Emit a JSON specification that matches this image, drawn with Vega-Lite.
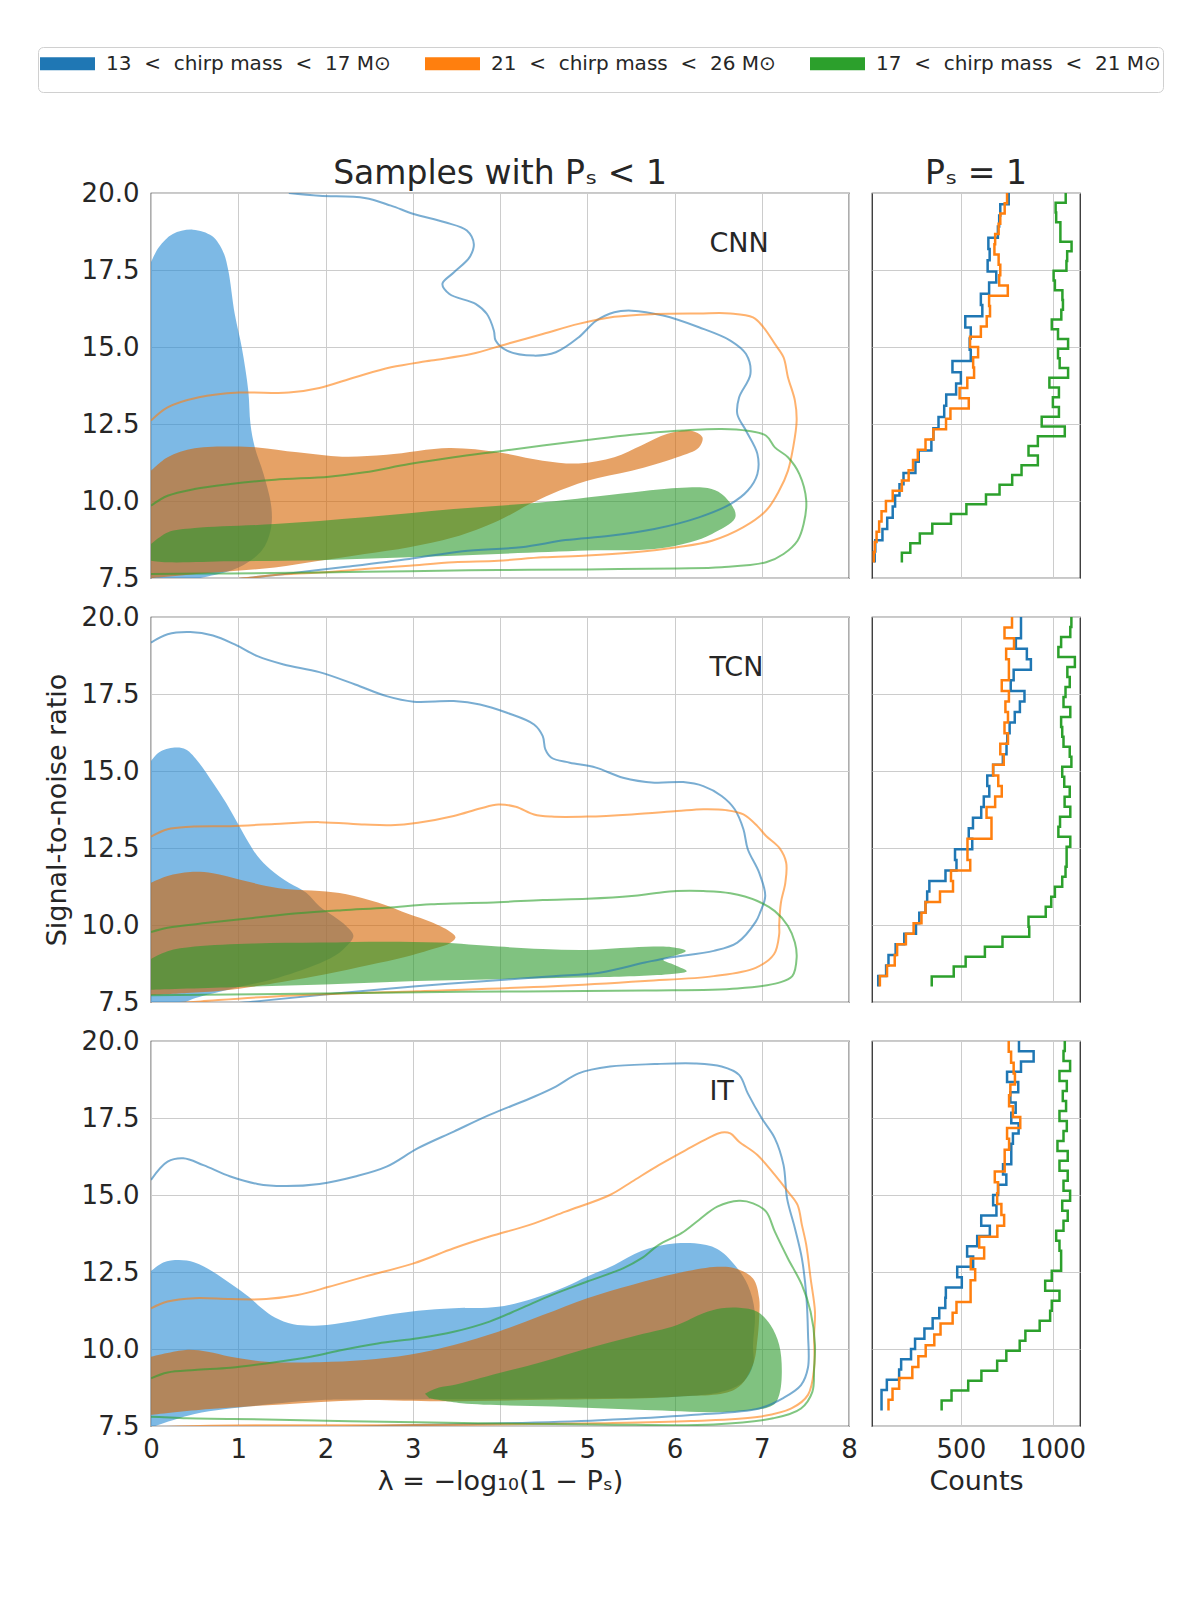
{
  "$schema": "https://vega.github.io/schema/vega-lite/v6.json",
  "background": "white",
  "padding": {"left": 37, "top": 46, "right": 10, "bottom": 10},
  "columns": 2,
  "spacing": {"row": 39, "column": 23},
  "bounds": "flush",
  "align": "each",
  "resolve": {"scale": {"x": "independent", "y": "independent", "color": "shared"}},
  "datasets": {
    "labels": [
      {"p": "CNN", "x": 6.4, "y": 18.35, "label": "CNN"},
      {"p": "TCN", "x": 6.4, "y": 18.35, "label": "TCN"},
      {"p": "IT", "x": 6.4, "y": 18.35, "label": "IT"}
    ],
    "contours": [
      {"p":"CNN","g":"b","t":"f","i":0,"x":0,"y":17.75},{"p":"CNN","g":"b","t":"f","i":1,"x":0.09,"y":18.24},{"p":"CNN","g":"b","t":"f","i":2,"x":0.25,"y":18.67},{"p":"CNN","g":"b","t":"f","i":3,"x":0.48,"y":18.81},{"p":"CNN","g":"b","t":"f","i":4,"x":0.7,"y":18.6},{"p":"CNN","g":"b","t":"f","i":5,"x":0.83,"y":18.07},{"p":"CNN","g":"b","t":"f","i":6,"x":0.885,"y":17.5},{"p":"CNN","g":"b","t":"f","i":7,"x":0.96,"y":16.07},{"p":"CNN","g":"b","t":"f","i":8,"x":1.04,"y":14.99},{"p":"CNN","g":"b","t":"f","i":9,"x":1.115,"y":13.58},{"p":"CNN","g":"b","t":"f","i":10,"x":1.14,"y":12.5},{"p":"CNN","g":"b","t":"f","i":11,"x":1.19,"y":11.74},{"p":"CNN","g":"b","t":"f","i":12,"x":1.29,"y":10.88},{"p":"CNN","g":"b","t":"f","i":13,"x":1.38,"y":9.79},{"p":"CNN","g":"b","t":"f","i":14,"x":1.37,"y":9.04},{"p":"CNN","g":"b","t":"f","i":15,"x":1.27,"y":8.39},{"p":"CNN","g":"b","t":"f","i":16,"x":1.01,"y":7.85},{"p":"CNN","g":"b","t":"f","i":17,"x":0.65,"y":7.55},{"p":"CNN","g":"b","t":"f","i":18,"x":0.3,"y":7.4},{"p":"CNN","g":"b","t":"f","i":19,"x":0,"y":7.4},
      {"p":"CNN","g":"o","t":"f","i":0,"x":0,"y":10.98},{"p":"CNN","g":"o","t":"f","i":1,"x":0.19,"y":11.42},{"p":"CNN","g":"o","t":"f","i":2,"x":0.5,"y":11.71},{"p":"CNN","g":"o","t":"f","i":3,"x":0.91,"y":11.77},{"p":"CNN","g":"o","t":"f","i":4,"x":1.22,"y":11.74},{"p":"CNN","g":"o","t":"f","i":5,"x":1.68,"y":11.58},{"p":"CNN","g":"o","t":"f","i":6,"x":2.19,"y":11.44},{"p":"CNN","g":"o","t":"f","i":7,"x":2.7,"y":11.5},{"p":"CNN","g":"o","t":"f","i":8,"x":3.42,"y":11.72},{"p":"CNN","g":"o","t":"f","i":9,"x":3.98,"y":11.58},{"p":"CNN","g":"o","t":"f","i":10,"x":4.49,"y":11.31},{"p":"CNN","g":"o","t":"f","i":11,"x":4.9,"y":11.22},{"p":"CNN","g":"o","t":"f","i":12,"x":5.31,"y":11.42},{"p":"CNN","g":"o","t":"f","i":13,"x":5.62,"y":11.8},{"p":"CNN","g":"o","t":"f","i":14,"x":5.92,"y":12.18},{"p":"CNN","g":"o","t":"f","i":15,"x":6.18,"y":12.29},{"p":"CNN","g":"o","t":"f","i":16,"x":6.32,"y":12.07},{"p":"CNN","g":"o","t":"f","i":17,"x":6.28,"y":11.74},{"p":"CNN","g":"o","t":"f","i":18,"x":6.03,"y":11.42},{"p":"CNN","g":"o","t":"f","i":19,"x":5.51,"y":10.98},{"p":"CNN","g":"o","t":"f","i":20,"x":5.0,"y":10.66},{"p":"CNN","g":"o","t":"f","i":21,"x":4.59,"y":10.23},{"p":"CNN","g":"o","t":"f","i":22,"x":4.34,"y":9.9},{"p":"CNN","g":"o","t":"f","i":23,"x":3.98,"y":9.36},{"p":"CNN","g":"o","t":"f","i":24,"x":3.47,"y":8.82},{"p":"CNN","g":"o","t":"f","i":25,"x":2.96,"y":8.5},{"p":"CNN","g":"o","t":"f","i":26,"x":2.45,"y":8.28},{"p":"CNN","g":"o","t":"f","i":27,"x":1.93,"y":8.06},{"p":"CNN","g":"o","t":"f","i":28,"x":1.42,"y":7.84},{"p":"CNN","g":"o","t":"f","i":29,"x":0.91,"y":7.72},{"p":"CNN","g":"o","t":"f","i":30,"x":0.4,"y":7.6},{"p":"CNN","g":"o","t":"f","i":31,"x":0,"y":7.5},
      {"p":"CNN","g":"g","t":"f","i":0,"x":0,"y":8.6},{"p":"CNN","g":"g","t":"f","i":1,"x":0.19,"y":8.98},{"p":"CNN","g":"g","t":"f","i":2,"x":0.5,"y":9.12},{"p":"CNN","g":"g","t":"f","i":3,"x":1.42,"y":9.25},{"p":"CNN","g":"g","t":"f","i":4,"x":2.45,"y":9.47},{"p":"CNN","g":"g","t":"f","i":5,"x":3.47,"y":9.74},{"p":"CNN","g":"g","t":"f","i":6,"x":4.49,"y":9.96},{"p":"CNN","g":"g","t":"f","i":7,"x":5.51,"y":10.28},{"p":"CNN","g":"g","t":"f","i":8,"x":6.03,"y":10.42},{"p":"CNN","g":"g","t":"f","i":9,"x":6.38,"y":10.42},{"p":"CNN","g":"g","t":"f","i":10,"x":6.54,"y":10.23},{"p":"CNN","g":"g","t":"f","i":11,"x":6.69,"y":9.69},{"p":"CNN","g":"g","t":"f","i":12,"x":6.69,"y":9.42},{"p":"CNN","g":"g","t":"f","i":13,"x":6.43,"y":8.93},{"p":"CNN","g":"g","t":"f","i":14,"x":6.18,"y":8.66},{"p":"CNN","g":"g","t":"f","i":15,"x":5.77,"y":8.44},{"p":"CNN","g":"g","t":"f","i":16,"x":5.0,"y":8.39},{"p":"CNN","g":"g","t":"f","i":17,"x":3.98,"y":8.28},{"p":"CNN","g":"g","t":"f","i":18,"x":2.96,"y":8.17},{"p":"CNN","g":"g","t":"f","i":19,"x":1.93,"y":8.08},{"p":"CNN","g":"g","t":"f","i":20,"x":0.91,"y":8.04},{"p":"CNN","g":"g","t":"f","i":21,"x":0.19,"y":8.01},{"p":"CNN","g":"g","t":"f","i":22,"x":0,"y":8.06},
      {"p":"CNN","g":"b","t":"l","i":1,"x":1.58,"y":20.0},{"p":"CNN","g":"b","t":"l","i":2,"x":1.93,"y":19.91},{"p":"CNN","g":"b","t":"l","i":3,"x":2.45,"y":19.84},{"p":"CNN","g":"b","t":"l","i":4,"x":2.75,"y":19.59},{"p":"CNN","g":"b","t":"l","i":5,"x":3.01,"y":19.32},{"p":"CNN","g":"b","t":"l","i":6,"x":3.37,"y":19.05},{"p":"CNN","g":"b","t":"l","i":7,"x":3.62,"y":18.78},{"p":"CNN","g":"b","t":"l","i":8,"x":3.7,"y":18.34},{"p":"CNN","g":"b","t":"l","i":9,"x":3.65,"y":17.91},{"p":"CNN","g":"b","t":"l","i":10,"x":3.47,"y":17.42},{"p":"CNN","g":"b","t":"l","i":11,"x":3.34,"y":17.05},{"p":"CNN","g":"b","t":"l","i":12,"x":3.42,"y":16.72},{"p":"CNN","g":"b","t":"l","i":13,"x":3.72,"y":16.4},{"p":"CNN","g":"b","t":"l","i":14,"x":3.85,"y":16.07},{"p":"CNN","g":"b","t":"l","i":15,"x":3.93,"y":15.53},{"p":"CNN","g":"b","t":"l","i":16,"x":3.95,"y":15.21},{"p":"CNN","g":"b","t":"l","i":17,"x":4.08,"y":14.88},{"p":"CNN","g":"b","t":"l","i":18,"x":4.39,"y":14.72},{"p":"CNN","g":"b","t":"l","i":19,"x":4.64,"y":14.83},{"p":"CNN","g":"b","t":"l","i":20,"x":4.9,"y":15.31},{"p":"CNN","g":"b","t":"l","i":21,"x":5.1,"y":15.85},{"p":"CNN","g":"b","t":"l","i":22,"x":5.31,"y":16.13},{"p":"CNN","g":"b","t":"l","i":23,"x":5.51,"y":16.18},{"p":"CNN","g":"b","t":"l","i":24,"x":5.87,"y":16.02},{"p":"CNN","g":"b","t":"l","i":25,"x":6.28,"y":15.64},{"p":"CNN","g":"b","t":"l","i":26,"x":6.64,"y":15.21},{"p":"CNN","g":"b","t":"l","i":27,"x":6.82,"y":14.77},{"p":"CNN","g":"b","t":"l","i":28,"x":6.87,"y":14.12},{"p":"CNN","g":"b","t":"l","i":29,"x":6.74,"y":13.36},{"p":"CNN","g":"b","t":"l","i":30,"x":6.72,"y":12.82},{"p":"CNN","g":"b","t":"l","i":31,"x":6.82,"y":12.28},{"p":"CNN","g":"b","t":"l","i":32,"x":6.95,"y":11.53},{"p":"CNN","g":"b","t":"l","i":33,"x":6.95,"y":10.88},{"p":"CNN","g":"b","t":"l","i":34,"x":6.84,"y":10.34},{"p":"CNN","g":"b","t":"l","i":35,"x":6.64,"y":9.9},{"p":"CNN","g":"b","t":"l","i":36,"x":6.28,"y":9.47},{"p":"CNN","g":"b","t":"l","i":37,"x":5.77,"y":9.09},{"p":"CNN","g":"b","t":"l","i":38,"x":5.26,"y":8.87},{"p":"CNN","g":"b","t":"l","i":39,"x":4.75,"y":8.73},{"p":"CNN","g":"b","t":"l","i":40,"x":4.24,"y":8.5},{"p":"CNN","g":"b","t":"l","i":41,"x":3.57,"y":8.37},{"p":"CNN","g":"b","t":"l","i":42,"x":2.96,"y":8.12},{"p":"CNN","g":"b","t":"l","i":43,"x":2.19,"y":7.85},{"p":"CNN","g":"b","t":"l","i":44,"x":1.68,"y":7.68},{"p":"CNN","g":"b","t":"l","i":45,"x":1.17,"y":7.52},{"p":"CNN","g":"b","t":"l","i":46,"x":0.6,"y":7.35},{"p":"CNN","g":"b","t":"l","i":47,"x":-0.5,"y":7.2},
      {"p":"CNN","g":"o","t":"l","i":0,"x":0,"y":12.61},{"p":"CNN","g":"o","t":"l","i":1,"x":0.19,"y":13.04},{"p":"CNN","g":"o","t":"l","i":2,"x":0.55,"y":13.37},{"p":"CNN","g":"o","t":"l","i":3,"x":1.01,"y":13.52},{"p":"CNN","g":"o","t":"l","i":4,"x":1.58,"y":13.52},{"p":"CNN","g":"o","t":"l","i":5,"x":1.93,"y":13.67},{"p":"CNN","g":"o","t":"l","i":6,"x":2.34,"y":14.02},{"p":"CNN","g":"o","t":"l","i":7,"x":2.75,"y":14.34},{"p":"CNN","g":"o","t":"l","i":8,"x":3.21,"y":14.56},{"p":"CNN","g":"o","t":"l","i":9,"x":3.67,"y":14.77},{"p":"CNN","g":"o","t":"l","i":10,"x":4.08,"y":15.1},{"p":"CNN","g":"o","t":"l","i":11,"x":4.49,"y":15.42},{"p":"CNN","g":"o","t":"l","i":12,"x":4.9,"y":15.75},{"p":"CNN","g":"o","t":"l","i":13,"x":5.31,"y":15.98},{"p":"CNN","g":"o","t":"l","i":14,"x":5.77,"y":16.07},{"p":"CNN","g":"o","t":"l","i":15,"x":6.28,"y":16.09},{"p":"CNN","g":"o","t":"l","i":16,"x":6.64,"y":16.09},{"p":"CNN","g":"o","t":"l","i":17,"x":6.9,"y":15.96},{"p":"CNN","g":"o","t":"l","i":18,"x":7.02,"y":15.64},{"p":"CNN","g":"o","t":"l","i":19,"x":7.15,"y":15.1},{"p":"CNN","g":"o","t":"l","i":20,"x":7.25,"y":14.66},{"p":"CNN","g":"o","t":"l","i":21,"x":7.3,"y":14.02},{"p":"CNN","g":"o","t":"l","i":22,"x":7.38,"y":13.26},{"p":"CNN","g":"o","t":"l","i":23,"x":7.4,"y":12.61},{"p":"CNN","g":"o","t":"l","i":24,"x":7.36,"y":11.74},{"p":"CNN","g":"o","t":"l","i":25,"x":7.3,"y":10.98},{"p":"CNN","g":"o","t":"l","i":26,"x":7.2,"y":10.34},{"p":"CNN","g":"o","t":"l","i":27,"x":7.05,"y":9.69},{"p":"CNN","g":"o","t":"l","i":28,"x":6.79,"y":9.15},{"p":"CNN","g":"o","t":"l","i":29,"x":6.43,"y":8.71},{"p":"CNN","g":"o","t":"l","i":30,"x":6.03,"y":8.5},{"p":"CNN","g":"o","t":"l","i":31,"x":5.51,"y":8.33},{"p":"CNN","g":"o","t":"l","i":32,"x":5.0,"y":8.23},{"p":"CNN","g":"o","t":"l","i":33,"x":4.49,"y":8.17},{"p":"CNN","g":"o","t":"l","i":34,"x":3.98,"y":8.06},{"p":"CNN","g":"o","t":"l","i":35,"x":3.47,"y":8.01},{"p":"CNN","g":"o","t":"l","i":36,"x":2.96,"y":7.9},{"p":"CNN","g":"o","t":"l","i":37,"x":2.45,"y":7.79},{"p":"CNN","g":"o","t":"l","i":38,"x":1.93,"y":7.68},{"p":"CNN","g":"o","t":"l","i":39,"x":1.42,"y":7.6},{"p":"CNN","g":"o","t":"l","i":40,"x":1.17,"y":7.52},{"p":"CNN","g":"o","t":"l","i":41,"x":0.5,"y":7.35},{"p":"CNN","g":"o","t":"l","i":42,"x":-0.5,"y":7.3},{"p":"CNN","g":"o","t":"l","i":43,"x":-0.5,"y":12.6},
      {"p":"CNN","g":"g","t":"l","i":0,"x":0,"y":9.85},{"p":"CNN","g":"g","t":"l","i":1,"x":0.19,"y":10.17},{"p":"CNN","g":"g","t":"l","i":2,"x":0.5,"y":10.39},{"p":"CNN","g":"g","t":"l","i":3,"x":0.91,"y":10.55},{"p":"CNN","g":"g","t":"l","i":4,"x":1.42,"y":10.69},{"p":"CNN","g":"g","t":"l","i":5,"x":2.04,"y":10.79},{"p":"CNN","g":"g","t":"l","i":6,"x":2.45,"y":10.93},{"p":"CNN","g":"g","t":"l","i":7,"x":2.96,"y":11.2},{"p":"CNN","g":"g","t":"l","i":8,"x":3.47,"y":11.42},{"p":"CNN","g":"g","t":"l","i":9,"x":3.98,"y":11.61},{"p":"CNN","g":"g","t":"l","i":10,"x":4.49,"y":11.8},{"p":"CNN","g":"g","t":"l","i":11,"x":5.0,"y":11.98},{"p":"CNN","g":"g","t":"l","i":12,"x":5.51,"y":12.15},{"p":"CNN","g":"g","t":"l","i":13,"x":6.03,"y":12.28},{"p":"CNN","g":"g","t":"l","i":14,"x":6.54,"y":12.34},{"p":"CNN","g":"g","t":"l","i":15,"x":6.84,"y":12.28},{"p":"CNN","g":"g","t":"l","i":16,"x":7.05,"y":12.12},{"p":"CNN","g":"g","t":"l","i":17,"x":7.15,"y":11.74},{"p":"CNN","g":"g","t":"l","i":18,"x":7.3,"y":11.42},{"p":"CNN","g":"g","t":"l","i":19,"x":7.43,"y":10.88},{"p":"CNN","g":"g","t":"l","i":20,"x":7.51,"y":10.01},{"p":"CNN","g":"g","t":"l","i":21,"x":7.48,"y":9.25},{"p":"CNN","g":"g","t":"l","i":22,"x":7.41,"y":8.71},{"p":"CNN","g":"g","t":"l","i":23,"x":7.25,"y":8.28},{"p":"CNN","g":"g","t":"l","i":24,"x":7.05,"y":8.01},{"p":"CNN","g":"g","t":"l","i":25,"x":6.54,"y":7.85},{"p":"CNN","g":"g","t":"l","i":26,"x":6.03,"y":7.81},{"p":"CNN","g":"g","t":"l","i":27,"x":5.0,"y":7.78},{"p":"CNN","g":"g","t":"l","i":28,"x":3.98,"y":7.76},{"p":"CNN","g":"g","t":"l","i":29,"x":2.96,"y":7.72},{"p":"CNN","g":"g","t":"l","i":30,"x":1.93,"y":7.68},{"p":"CNN","g":"g","t":"l","i":31,"x":0.91,"y":7.65},{"p":"CNN","g":"g","t":"l","i":32,"x":0,"y":7.63},{"p":"CNN","g":"g","t":"l","i":33,"x":-0.5,"y":7.6},{"p":"CNN","g":"g","t":"l","i":34,"x":-0.5,"y":9.85},
      {"p":"TCN","g":"b","t":"f","i":0,"x":0,"y":15.32},{"p":"TCN","g":"b","t":"f","i":1,"x":0.09,"y":15.6},{"p":"TCN","g":"b","t":"f","i":2,"x":0.27,"y":15.76},{"p":"TCN","g":"b","t":"f","i":3,"x":0.4,"y":15.7},{"p":"TCN","g":"b","t":"f","i":4,"x":0.55,"y":15.27},{"p":"TCN","g":"b","t":"f","i":5,"x":0.71,"y":14.62},{"p":"TCN","g":"b","t":"f","i":6,"x":0.86,"y":13.97},{"p":"TCN","g":"b","t":"f","i":7,"x":0.99,"y":13.32},{"p":"TCN","g":"b","t":"f","i":8,"x":1.12,"y":12.67},{"p":"TCN","g":"b","t":"f","i":9,"x":1.22,"y":12.24},{"p":"TCN","g":"b","t":"f","i":10,"x":1.37,"y":11.8},{"p":"TCN","g":"b","t":"f","i":11,"x":1.58,"y":11.37},{"p":"TCN","g":"b","t":"f","i":12,"x":1.78,"y":11.05},{"p":"TCN","g":"b","t":"f","i":13,"x":1.93,"y":10.61},{"p":"TCN","g":"b","t":"f","i":14,"x":2.09,"y":10.29},{"p":"TCN","g":"b","t":"f","i":15,"x":2.24,"y":9.96},{"p":"TCN","g":"b","t":"f","i":16,"x":2.32,"y":9.64},{"p":"TCN","g":"b","t":"f","i":17,"x":2.2,"y":9.2},{"p":"TCN","g":"b","t":"f","i":18,"x":1.99,"y":8.83},{"p":"TCN","g":"b","t":"f","i":19,"x":1.46,"y":8.29},{"p":"TCN","g":"b","t":"f","i":20,"x":0.94,"y":7.94},{"p":"TCN","g":"b","t":"f","i":21,"x":0.51,"y":7.63},{"p":"TCN","g":"b","t":"f","i":22,"x":0.36,"y":7.47},{"p":"TCN","g":"b","t":"f","i":23,"x":0,"y":7.4},
      {"p":"TCN","g":"o","t":"f","i":0,"x":0,"y":11.37},{"p":"TCN","g":"o","t":"f","i":1,"x":0.19,"y":11.59},{"p":"TCN","g":"o","t":"f","i":2,"x":0.45,"y":11.72},{"p":"TCN","g":"o","t":"f","i":3,"x":0.71,"y":11.68},{"p":"TCN","g":"o","t":"f","i":4,"x":1.01,"y":11.48},{"p":"TCN","g":"o","t":"f","i":5,"x":1.32,"y":11.27},{"p":"TCN","g":"o","t":"f","i":6,"x":1.58,"y":11.16},{"p":"TCN","g":"o","t":"f","i":7,"x":1.93,"y":11.1},{"p":"TCN","g":"o","t":"f","i":8,"x":2.24,"y":11.0},{"p":"TCN","g":"o","t":"f","i":9,"x":2.6,"y":10.73},{"p":"TCN","g":"o","t":"f","i":10,"x":2.96,"y":10.35},{"p":"TCN","g":"o","t":"f","i":11,"x":3.21,"y":10.1},{"p":"TCN","g":"o","t":"f","i":12,"x":3.42,"y":9.8},{"p":"TCN","g":"o","t":"f","i":13,"x":3.49,"y":9.6},{"p":"TCN","g":"o","t":"f","i":14,"x":3.42,"y":9.4},{"p":"TCN","g":"o","t":"f","i":15,"x":3.2,"y":9.2},{"p":"TCN","g":"o","t":"f","i":16,"x":2.9,"y":8.95},{"p":"TCN","g":"o","t":"f","i":17,"x":2.5,"y":8.7},{"p":"TCN","g":"o","t":"f","i":18,"x":2.0,"y":8.4},{"p":"TCN","g":"o","t":"f","i":19,"x":1.5,"y":8.15},{"p":"TCN","g":"o","t":"f","i":20,"x":0.83,"y":7.87},{"p":"TCN","g":"o","t":"f","i":21,"x":0.41,"y":7.79},{"p":"TCN","g":"o","t":"f","i":22,"x":0,"y":7.72},
      {"p":"TCN","g":"g","t":"f","i":0,"x":0,"y":8.9},{"p":"TCN","g":"g","t":"f","i":1,"x":0.19,"y":9.15},{"p":"TCN","g":"g","t":"f","i":2,"x":0.5,"y":9.3},{"p":"TCN","g":"g","t":"f","i":3,"x":1.17,"y":9.4},{"p":"TCN","g":"g","t":"f","i":4,"x":1.93,"y":9.43},{"p":"TCN","g":"g","t":"f","i":5,"x":2.7,"y":9.46},{"p":"TCN","g":"g","t":"f","i":6,"x":3.3,"y":9.43},{"p":"TCN","g":"g","t":"f","i":7,"x":3.98,"y":9.3},{"p":"TCN","g":"g","t":"f","i":8,"x":4.49,"y":9.22},{"p":"TCN","g":"g","t":"f","i":9,"x":5.0,"y":9.19},{"p":"TCN","g":"g","t":"f","i":10,"x":5.51,"y":9.27},{"p":"TCN","g":"g","t":"f","i":11,"x":5.97,"y":9.28},{"p":"TCN","g":"g","t":"f","i":12,"x":6.13,"y":9.16},{"p":"TCN","g":"g","t":"f","i":13,"x":6.0,"y":9.0},{"p":"TCN","g":"g","t":"f","i":14,"x":5.87,"y":8.87},{"p":"TCN","g":"g","t":"f","i":15,"x":6.0,"y":8.7},{"p":"TCN","g":"g","t":"f","i":16,"x":6.14,"y":8.5},{"p":"TCN","g":"g","t":"f","i":17,"x":6.0,"y":8.42},{"p":"TCN","g":"g","t":"f","i":18,"x":5.2,"y":8.31},{"p":"TCN","g":"g","t":"f","i":19,"x":4.1,"y":8.25},{"p":"TCN","g":"g","t":"f","i":20,"x":3.04,"y":8.18},{"p":"TCN","g":"g","t":"f","i":21,"x":1.99,"y":8.07},{"p":"TCN","g":"g","t":"f","i":22,"x":0.93,"y":7.98},{"p":"TCN","g":"g","t":"f","i":23,"x":0,"y":7.9},
      {"p":"TCN","g":"b","t":"l","i":0,"x":0,"y":19.17},{"p":"TCN","g":"b","t":"l","i":1,"x":0.19,"y":19.44},{"p":"TCN","g":"b","t":"l","i":2,"x":0.45,"y":19.51},{"p":"TCN","g":"b","t":"l","i":3,"x":0.71,"y":19.4},{"p":"TCN","g":"b","t":"l","i":4,"x":0.96,"y":19.11},{"p":"TCN","g":"b","t":"l","i":5,"x":1.22,"y":18.73},{"p":"TCN","g":"b","t":"l","i":6,"x":1.52,"y":18.46},{"p":"TCN","g":"b","t":"l","i":7,"x":1.93,"y":18.21},{"p":"TCN","g":"b","t":"l","i":8,"x":2.34,"y":17.81},{"p":"TCN","g":"b","t":"l","i":9,"x":2.7,"y":17.43},{"p":"TCN","g":"b","t":"l","i":10,"x":3.01,"y":17.25},{"p":"TCN","g":"b","t":"l","i":11,"x":3.47,"y":17.27},{"p":"TCN","g":"b","t":"l","i":12,"x":3.77,"y":17.16},{"p":"TCN","g":"b","t":"l","i":13,"x":4.08,"y":16.89},{"p":"TCN","g":"b","t":"l","i":14,"x":4.39,"y":16.51},{"p":"TCN","g":"b","t":"l","i":15,"x":4.49,"y":16.13},{"p":"TCN","g":"b","t":"l","i":16,"x":4.52,"y":15.7},{"p":"TCN","g":"b","t":"l","i":17,"x":4.59,"y":15.43},{"p":"TCN","g":"b","t":"l","i":18,"x":4.8,"y":15.27},{"p":"TCN","g":"b","t":"l","i":19,"x":5.1,"y":15.11},{"p":"TCN","g":"b","t":"l","i":20,"x":5.41,"y":14.78},{"p":"TCN","g":"b","t":"l","i":21,"x":5.77,"y":14.62},{"p":"TCN","g":"b","t":"l","i":22,"x":6.1,"y":14.64},{"p":"TCN","g":"b","t":"l","i":23,"x":6.33,"y":14.51},{"p":"TCN","g":"b","t":"l","i":24,"x":6.54,"y":14.19},{"p":"TCN","g":"b","t":"l","i":25,"x":6.69,"y":13.76},{"p":"TCN","g":"b","t":"l","i":26,"x":6.79,"y":13.11},{"p":"TCN","g":"b","t":"l","i":27,"x":6.84,"y":12.46},{"p":"TCN","g":"b","t":"l","i":28,"x":6.97,"y":11.7},{"p":"TCN","g":"b","t":"l","i":29,"x":7.04,"y":10.94},{"p":"TCN","g":"b","t":"l","i":30,"x":6.98,"y":10.4},{"p":"TCN","g":"b","t":"l","i":31,"x":6.93,"y":10.1},{"p":"TCN","g":"b","t":"l","i":32,"x":6.72,"y":9.43},{"p":"TCN","g":"b","t":"l","i":33,"x":6.45,"y":9.16},{"p":"TCN","g":"b","t":"l","i":34,"x":5.93,"y":8.94},{"p":"TCN","g":"b","t":"l","i":35,"x":5.66,"y":8.78},{"p":"TCN","g":"b","t":"l","i":36,"x":5.14,"y":8.45},{"p":"TCN","g":"b","t":"l","i":37,"x":4.61,"y":8.34},{"p":"TCN","g":"b","t":"l","i":38,"x":4.09,"y":8.23},{"p":"TCN","g":"b","t":"l","i":39,"x":3.04,"y":8.01},{"p":"TCN","g":"b","t":"l","i":40,"x":1.99,"y":7.74},{"p":"TCN","g":"b","t":"l","i":41,"x":1.2,"y":7.52},{"p":"TCN","g":"b","t":"l","i":42,"x":0.5,"y":7.35},{"p":"TCN","g":"b","t":"l","i":43,"x":-0.5,"y":7.3},{"p":"TCN","g":"b","t":"l","i":44,"x":-0.5,"y":19.0},
      {"p":"TCN","g":"o","t":"l","i":0,"x":0,"y":12.87},{"p":"TCN","g":"o","t":"l","i":1,"x":0.19,"y":13.11},{"p":"TCN","g":"o","t":"l","i":2,"x":0.45,"y":13.19},{"p":"TCN","g":"o","t":"l","i":3,"x":0.91,"y":13.21},{"p":"TCN","g":"o","t":"l","i":4,"x":1.42,"y":13.28},{"p":"TCN","g":"o","t":"l","i":5,"x":1.93,"y":13.34},{"p":"TCN","g":"o","t":"l","i":6,"x":2.45,"y":13.26},{"p":"TCN","g":"o","t":"l","i":7,"x":2.75,"y":13.24},{"p":"TCN","g":"o","t":"l","i":8,"x":3.06,"y":13.32},{"p":"TCN","g":"o","t":"l","i":9,"x":3.47,"y":13.54},{"p":"TCN","g":"o","t":"l","i":10,"x":3.77,"y":13.78},{"p":"TCN","g":"o","t":"l","i":11,"x":3.98,"y":13.91},{"p":"TCN","g":"o","t":"l","i":12,"x":4.18,"y":13.84},{"p":"TCN","g":"o","t":"l","i":13,"x":4.39,"y":13.59},{"p":"TCN","g":"o","t":"l","i":14,"x":4.59,"y":13.52},{"p":"TCN","g":"o","t":"l","i":15,"x":5.0,"y":13.52},{"p":"TCN","g":"o","t":"l","i":16,"x":5.51,"y":13.59},{"p":"TCN","g":"o","t":"l","i":17,"x":6.03,"y":13.7},{"p":"TCN","g":"o","t":"l","i":18,"x":6.33,"y":13.76},{"p":"TCN","g":"o","t":"l","i":19,"x":6.59,"y":13.73},{"p":"TCN","g":"o","t":"l","i":20,"x":6.79,"y":13.59},{"p":"TCN","g":"o","t":"l","i":21,"x":6.95,"y":13.21},{"p":"TCN","g":"o","t":"l","i":22,"x":7.05,"y":12.89},{"p":"TCN","g":"o","t":"l","i":23,"x":7.2,"y":12.51},{"p":"TCN","g":"o","t":"l","i":24,"x":7.28,"y":12.02},{"p":"TCN","g":"o","t":"l","i":25,"x":7.27,"y":11.37},{"p":"TCN","g":"o","t":"l","i":26,"x":7.22,"y":10.73},{"p":"TCN","g":"o","t":"l","i":27,"x":7.2,"y":10.0},{"p":"TCN","g":"o","t":"l","i":28,"x":7.2,"y":9.7},{"p":"TCN","g":"o","t":"l","i":29,"x":7.14,"y":9.05},{"p":"TCN","g":"o","t":"l","i":30,"x":6.93,"y":8.61},{"p":"TCN","g":"o","t":"l","i":31,"x":6.45,"y":8.34},{"p":"TCN","g":"o","t":"l","i":32,"x":5.66,"y":8.18},{"p":"TCN","g":"o","t":"l","i":33,"x":4.61,"y":8.01},{"p":"TCN","g":"o","t":"l","i":34,"x":3.04,"y":7.85},{"p":"TCN","g":"o","t":"l","i":35,"x":1.46,"y":7.69},{"p":"TCN","g":"o","t":"l","i":36,"x":0.57,"y":7.52},{"p":"TCN","g":"o","t":"l","i":37,"x":0,"y":7.4},{"p":"TCN","g":"o","t":"l","i":38,"x":-0.5,"y":7.3},{"p":"TCN","g":"o","t":"l","i":39,"x":-0.5,"y":12.8},
      {"p":"TCN","g":"g","t":"l","i":0,"x":0,"y":9.77},{"p":"TCN","g":"g","t":"l","i":1,"x":0.19,"y":9.91},{"p":"TCN","g":"g","t":"l","i":2,"x":0.65,"y":10.07},{"p":"TCN","g":"g","t":"l","i":3,"x":1.17,"y":10.23},{"p":"TCN","g":"g","t":"l","i":4,"x":1.68,"y":10.38},{"p":"TCN","g":"g","t":"l","i":5,"x":2.19,"y":10.48},{"p":"TCN","g":"g","t":"l","i":6,"x":2.7,"y":10.56},{"p":"TCN","g":"g","t":"l","i":7,"x":3.21,"y":10.67},{"p":"TCN","g":"g","t":"l","i":8,"x":3.98,"y":10.74},{"p":"TCN","g":"g","t":"l","i":9,"x":4.49,"y":10.81},{"p":"TCN","g":"g","t":"l","i":10,"x":5.0,"y":10.85},{"p":"TCN","g":"g","t":"l","i":11,"x":5.51,"y":10.94},{"p":"TCN","g":"g","t":"l","i":12,"x":5.77,"y":11.03},{"p":"TCN","g":"g","t":"l","i":13,"x":6.03,"y":11.1},{"p":"TCN","g":"g","t":"l","i":14,"x":6.33,"y":11.1},{"p":"TCN","g":"g","t":"l","i":15,"x":6.64,"y":11.03},{"p":"TCN","g":"g","t":"l","i":16,"x":6.95,"y":10.78},{"p":"TCN","g":"g","t":"l","i":17,"x":7.15,"y":10.45},{"p":"TCN","g":"g","t":"l","i":18,"x":7.3,"y":9.97},{"p":"TCN","g":"g","t":"l","i":19,"x":7.38,"y":9.43},{"p":"TCN","g":"g","t":"l","i":20,"x":7.4,"y":8.94},{"p":"TCN","g":"g","t":"l","i":21,"x":7.35,"y":8.34},{"p":"TCN","g":"g","t":"l","i":22,"x":7.19,"y":8.12},{"p":"TCN","g":"g","t":"l","i":23,"x":6.72,"y":7.94},{"p":"TCN","g":"g","t":"l","i":24,"x":5.66,"y":7.87},{"p":"TCN","g":"g","t":"l","i":25,"x":3.56,"y":7.83},{"p":"TCN","g":"g","t":"l","i":26,"x":1.46,"y":7.76},{"p":"TCN","g":"g","t":"l","i":27,"x":0,"y":7.72},{"p":"TCN","g":"g","t":"l","i":28,"x":-0.5,"y":7.7},{"p":"TCN","g":"g","t":"l","i":29,"x":-0.5,"y":9.8},
      {"p":"IT","g":"b","t":"f","i":0,"x":0,"y":12.53},{"p":"IT","g":"b","t":"f","i":1,"x":0.14,"y":12.81},{"p":"IT","g":"b","t":"f","i":2,"x":0.32,"y":12.89},{"p":"IT","g":"b","t":"f","i":3,"x":0.5,"y":12.81},{"p":"IT","g":"b","t":"f","i":4,"x":0.71,"y":12.51},{"p":"IT","g":"b","t":"f","i":5,"x":0.91,"y":12.13},{"p":"IT","g":"b","t":"f","i":6,"x":1.12,"y":11.7},{"p":"IT","g":"b","t":"f","i":7,"x":1.27,"y":11.32},{"p":"IT","g":"b","t":"f","i":8,"x":1.42,"y":11.02},{"p":"IT","g":"b","t":"f","i":9,"x":1.63,"y":10.8},{"p":"IT","g":"b","t":"f","i":10,"x":1.93,"y":10.76},{"p":"IT","g":"b","t":"f","i":11,"x":2.29,"y":10.89},{"p":"IT","g":"b","t":"f","i":12,"x":2.7,"y":11.1},{"p":"IT","g":"b","t":"f","i":13,"x":3.06,"y":11.24},{"p":"IT","g":"b","t":"f","i":14,"x":3.47,"y":11.32},{"p":"IT","g":"b","t":"f","i":15,"x":3.98,"y":11.37},{"p":"IT","g":"b","t":"f","i":16,"x":4.39,"y":11.65},{"p":"IT","g":"b","t":"f","i":17,"x":4.75,"y":12.02},{"p":"IT","g":"b","t":"f","i":18,"x":5.0,"y":12.35},{"p":"IT","g":"b","t":"f","i":19,"x":5.31,"y":12.73},{"p":"IT","g":"b","t":"f","i":20,"x":5.62,"y":13.18},{"p":"IT","g":"b","t":"f","i":21,"x":5.92,"y":13.4},{"p":"IT","g":"b","t":"f","i":22,"x":6.23,"y":13.43},{"p":"IT","g":"b","t":"f","i":23,"x":6.49,"y":13.25},{"p":"IT","g":"b","t":"f","i":24,"x":6.69,"y":12.73},{"p":"IT","g":"b","t":"f","i":25,"x":6.84,"y":12.08},{"p":"IT","g":"b","t":"f","i":26,"x":6.92,"y":11.21},{"p":"IT","g":"b","t":"f","i":27,"x":6.9,"y":10.13},{"p":"IT","g":"b","t":"f","i":28,"x":6.9,"y":9.48},{"p":"IT","g":"b","t":"f","i":29,"x":6.79,"y":8.94},{"p":"IT","g":"b","t":"f","i":30,"x":6.54,"y":8.61},{"p":"IT","g":"b","t":"f","i":31,"x":6.03,"y":8.45},{"p":"IT","g":"b","t":"f","i":32,"x":5.0,"y":8.4},{"p":"IT","g":"b","t":"f","i":33,"x":3.5,"y":8.37},{"p":"IT","g":"b","t":"f","i":34,"x":2.4,"y":8.36},{"p":"IT","g":"b","t":"f","i":35,"x":2.0,"y":8.35},{"p":"IT","g":"b","t":"f","i":36,"x":1.2,"y":8.16},{"p":"IT","g":"b","t":"f","i":37,"x":0.5,"y":7.89},{"p":"IT","g":"b","t":"f","i":38,"x":0,"y":7.45},
      {"p":"IT","g":"o","t":"f","i":0,"x":0,"y":9.75},{"p":"IT","g":"o","t":"f","i":1,"x":0.4,"y":9.97},{"p":"IT","g":"o","t":"f","i":2,"x":0.65,"y":9.91},{"p":"IT","g":"o","t":"f","i":3,"x":0.91,"y":9.75},{"p":"IT","g":"o","t":"f","i":4,"x":1.32,"y":9.59},{"p":"IT","g":"o","t":"f","i":5,"x":1.93,"y":9.57},{"p":"IT","g":"o","t":"f","i":6,"x":2.45,"y":9.64},{"p":"IT","g":"o","t":"f","i":7,"x":2.96,"y":9.81},{"p":"IT","g":"o","t":"f","i":8,"x":3.47,"y":10.13},{"p":"IT","g":"o","t":"f","i":9,"x":3.98,"y":10.56},{"p":"IT","g":"o","t":"f","i":10,"x":4.49,"y":11.1},{"p":"IT","g":"o","t":"f","i":11,"x":5.0,"y":11.65},{"p":"IT","g":"o","t":"f","i":12,"x":5.51,"y":12.08},{"p":"IT","g":"o","t":"f","i":13,"x":6.03,"y":12.46},{"p":"IT","g":"o","t":"f","i":14,"x":6.49,"y":12.67},{"p":"IT","g":"o","t":"f","i":15,"x":6.69,"y":12.62},{"p":"IT","g":"o","t":"f","i":16,"x":6.9,"y":12.29},{"p":"IT","g":"o","t":"f","i":17,"x":6.97,"y":11.65},{"p":"IT","g":"o","t":"f","i":18,"x":6.97,"y":11.0},{"p":"IT","g":"o","t":"f","i":19,"x":6.95,"y":10.3},{"p":"IT","g":"o","t":"f","i":20,"x":6.9,"y":9.5},{"p":"IT","g":"o","t":"f","i":21,"x":6.7,"y":8.7},{"p":"IT","g":"o","t":"f","i":22,"x":6.0,"y":8.45},{"p":"IT","g":"o","t":"f","i":23,"x":4.5,"y":8.35},{"p":"IT","g":"o","t":"f","i":24,"x":3.3,"y":8.3},{"p":"IT","g":"o","t":"f","i":25,"x":2.4,"y":8.34},{"p":"IT","g":"o","t":"f","i":26,"x":1.5,"y":8.2},{"p":"IT","g":"o","t":"f","i":27,"x":0.67,"y":8.05},{"p":"IT","g":"o","t":"f","i":28,"x":0,"y":7.86},
      {"p":"IT","g":"g","t":"f","i":0,"x":3.14,"y":8.55},{"p":"IT","g":"g","t":"f","i":1,"x":3.3,"y":8.75},{"p":"IT","g":"g","t":"f","i":2,"x":3.47,"y":8.83},{"p":"IT","g":"g","t":"f","i":3,"x":3.98,"y":9.21},{"p":"IT","g":"g","t":"f","i":4,"x":4.49,"y":9.59},{"p":"IT","g":"g","t":"f","i":5,"x":5.0,"y":10.02},{"p":"IT","g":"g","t":"f","i":6,"x":5.51,"y":10.4},{"p":"IT","g":"g","t":"f","i":7,"x":6.03,"y":10.78},{"p":"IT","g":"g","t":"f","i":8,"x":6.33,"y":11.16},{"p":"IT","g":"g","t":"f","i":9,"x":6.54,"y":11.32},{"p":"IT","g":"g","t":"f","i":10,"x":6.74,"y":11.34},{"p":"IT","g":"g","t":"f","i":11,"x":6.95,"y":11.21},{"p":"IT","g":"g","t":"f","i":12,"x":7.1,"y":10.78},{"p":"IT","g":"g","t":"f","i":13,"x":7.2,"y":10.13},{"p":"IT","g":"g","t":"f","i":14,"x":7.23,"y":9.26},{"p":"IT","g":"g","t":"f","i":15,"x":7.2,"y":8.51},{"p":"IT","g":"g","t":"f","i":16,"x":7.13,"y":8.18},{"p":"IT","g":"g","t":"f","i":17,"x":6.71,"y":7.97},{"p":"IT","g":"g","t":"f","i":18,"x":5.66,"y":8.02},{"p":"IT","g":"g","t":"f","i":19,"x":4.61,"y":8.13},{"p":"IT","g":"g","t":"f","i":20,"x":3.56,"y":8.24},{"p":"IT","g":"g","t":"f","i":21,"x":3.19,"y":8.4},
      {"p":"IT","g":"b","t":"l","i":0,"x":0,"y":15.49},{"p":"IT","g":"b","t":"l","i":1,"x":0.19,"y":16.08},{"p":"IT","g":"b","t":"l","i":2,"x":0.37,"y":16.19},{"p":"IT","g":"b","t":"l","i":3,"x":0.6,"y":15.97},{"p":"IT","g":"b","t":"l","i":4,"x":0.91,"y":15.6},{"p":"IT","g":"b","t":"l","i":5,"x":1.22,"y":15.36},{"p":"IT","g":"b","t":"l","i":6,"x":1.52,"y":15.29},{"p":"IT","g":"b","t":"l","i":7,"x":1.93,"y":15.36},{"p":"IT","g":"b","t":"l","i":8,"x":2.34,"y":15.6},{"p":"IT","g":"b","t":"l","i":9,"x":2.7,"y":15.92},{"p":"IT","g":"b","t":"l","i":10,"x":3.06,"y":16.52},{"p":"IT","g":"b","t":"l","i":11,"x":3.47,"y":17.06},{"p":"IT","g":"b","t":"l","i":12,"x":3.88,"y":17.6},{"p":"IT","g":"b","t":"l","i":13,"x":4.39,"y":18.19},{"p":"IT","g":"b","t":"l","i":14,"x":4.64,"y":18.52},{"p":"IT","g":"b","t":"l","i":15,"x":4.9,"y":18.95},{"p":"IT","g":"b","t":"l","i":16,"x":5.26,"y":19.17},{"p":"IT","g":"b","t":"l","i":17,"x":5.77,"y":19.25},{"p":"IT","g":"b","t":"l","i":18,"x":6.23,"y":19.27},{"p":"IT","g":"b","t":"l","i":19,"x":6.54,"y":19.17},{"p":"IT","g":"b","t":"l","i":20,"x":6.74,"y":18.9},{"p":"IT","g":"b","t":"l","i":21,"x":6.84,"y":18.3},{"p":"IT","g":"b","t":"l","i":22,"x":7.0,"y":17.49},{"p":"IT","g":"b","t":"l","i":23,"x":7.15,"y":16.84},{"p":"IT","g":"b","t":"l","i":24,"x":7.25,"y":15.97},{"p":"IT","g":"b","t":"l","i":25,"x":7.29,"y":14.89},{"p":"IT","g":"b","t":"l","i":26,"x":7.38,"y":13.92},{"p":"IT","g":"b","t":"l","i":27,"x":7.46,"y":12.94},{"p":"IT","g":"b","t":"l","i":28,"x":7.51,"y":11.75},{"p":"IT","g":"b","t":"l","i":29,"x":7.53,"y":10.5},{"p":"IT","g":"b","t":"l","i":30,"x":7.53,"y":9.4},{"p":"IT","g":"b","t":"l","i":31,"x":7.45,"y":8.83},{"p":"IT","g":"b","t":"l","i":32,"x":7.24,"y":8.4},{"p":"IT","g":"b","t":"l","i":33,"x":6.97,"y":8.07},{"p":"IT","g":"b","t":"l","i":34,"x":6.19,"y":7.86},{"p":"IT","g":"b","t":"l","i":35,"x":5.14,"y":7.69},{"p":"IT","g":"b","t":"l","i":36,"x":4.09,"y":7.59},{"p":"IT","g":"b","t":"l","i":37,"x":3.04,"y":7.53},{"p":"IT","g":"b","t":"l","i":38,"x":2.0,"y":7.45},{"p":"IT","g":"b","t":"l","i":39,"x":0.5,"y":7.3},{"p":"IT","g":"b","t":"l","i":40,"x":-0.5,"y":7.3},{"p":"IT","g":"b","t":"l","i":41,"x":-0.5,"y":15.4},
      {"p":"IT","g":"o","t":"l","i":0,"x":0,"y":11.32},{"p":"IT","g":"o","t":"l","i":1,"x":0.19,"y":11.54},{"p":"IT","g":"o","t":"l","i":2,"x":0.5,"y":11.65},{"p":"IT","g":"o","t":"l","i":3,"x":0.91,"y":11.62},{"p":"IT","g":"o","t":"l","i":4,"x":1.32,"y":11.62},{"p":"IT","g":"o","t":"l","i":5,"x":1.68,"y":11.75},{"p":"IT","g":"o","t":"l","i":6,"x":2.04,"y":12.02},{"p":"IT","g":"o","t":"l","i":7,"x":2.45,"y":12.35},{"p":"IT","g":"o","t":"l","i":8,"x":3.01,"y":12.78},{"p":"IT","g":"o","t":"l","i":9,"x":3.47,"y":13.27},{"p":"IT","g":"o","t":"l","i":10,"x":3.88,"y":13.65},{"p":"IT","g":"o","t":"l","i":11,"x":4.34,"y":14.03},{"p":"IT","g":"o","t":"l","i":12,"x":4.75,"y":14.46},{"p":"IT","g":"o","t":"l","i":13,"x":5.26,"y":15.0},{"p":"IT","g":"o","t":"l","i":14,"x":5.51,"y":15.43},{"p":"IT","g":"o","t":"l","i":15,"x":5.82,"y":15.97},{"p":"IT","g":"o","t":"l","i":16,"x":6.13,"y":16.46},{"p":"IT","g":"o","t":"l","i":17,"x":6.38,"y":16.84},{"p":"IT","g":"o","t":"l","i":18,"x":6.54,"y":17.03},{"p":"IT","g":"o","t":"l","i":19,"x":6.64,"y":17.0},{"p":"IT","g":"o","t":"l","i":20,"x":6.74,"y":16.73},{"p":"IT","g":"o","t":"l","i":21,"x":6.95,"y":16.3},{"p":"IT","g":"o","t":"l","i":22,"x":7.15,"y":15.65},{"p":"IT","g":"o","t":"l","i":23,"x":7.3,"y":15.11},{"p":"IT","g":"o","t":"l","i":24,"x":7.41,"y":14.68},{"p":"IT","g":"o","t":"l","i":25,"x":7.46,"y":14.03},{"p":"IT","g":"o","t":"l","i":26,"x":7.51,"y":13.38},{"p":"IT","g":"o","t":"l","i":27,"x":7.56,"y":12.29},{"p":"IT","g":"o","t":"l","i":28,"x":7.61,"y":11.21},{"p":"IT","g":"o","t":"l","i":29,"x":7.6,"y":10.45},{"p":"IT","g":"o","t":"l","i":30,"x":7.6,"y":9.37},{"p":"IT","g":"o","t":"l","i":31,"x":7.53,"y":8.51},{"p":"IT","g":"o","t":"l","i":32,"x":7.34,"y":8.07},{"p":"IT","g":"o","t":"l","i":33,"x":6.97,"y":7.8},{"p":"IT","g":"o","t":"l","i":34,"x":6.19,"y":7.66},{"p":"IT","g":"o","t":"l","i":35,"x":5.14,"y":7.59},{"p":"IT","g":"o","t":"l","i":36,"x":3.04,"y":7.53},{"p":"IT","g":"o","t":"l","i":37,"x":0.67,"y":7.51},{"p":"IT","g":"o","t":"l","i":38,"x":0,"y":7.45},{"p":"IT","g":"o","t":"l","i":39,"x":-0.5,"y":7.4},{"p":"IT","g":"o","t":"l","i":40,"x":-0.5,"y":11.3},
      {"p":"IT","g":"g","t":"l","i":0,"x":0,"y":9.05},{"p":"IT","g":"g","t":"l","i":1,"x":0.19,"y":9.24},{"p":"IT","g":"g","t":"l","i":2,"x":0.5,"y":9.32},{"p":"IT","g":"g","t":"l","i":3,"x":0.91,"y":9.39},{"p":"IT","g":"g","t":"l","i":4,"x":1.32,"y":9.53},{"p":"IT","g":"g","t":"l","i":5,"x":1.83,"y":9.75},{"p":"IT","g":"g","t":"l","i":6,"x":2.19,"y":9.97},{"p":"IT","g":"g","t":"l","i":7,"x":2.6,"y":10.18},{"p":"IT","g":"g","t":"l","i":8,"x":3.06,"y":10.35},{"p":"IT","g":"g","t":"l","i":9,"x":3.47,"y":10.56},{"p":"IT","g":"g","t":"l","i":10,"x":3.88,"y":10.89},{"p":"IT","g":"g","t":"l","i":11,"x":4.24,"y":11.32},{"p":"IT","g":"g","t":"l","i":12,"x":4.59,"y":11.75},{"p":"IT","g":"g","t":"l","i":13,"x":5.0,"y":12.19},{"p":"IT","g":"g","t":"l","i":14,"x":5.41,"y":12.62},{"p":"IT","g":"g","t":"l","i":15,"x":5.62,"y":12.94},{"p":"IT","g":"g","t":"l","i":16,"x":5.82,"y":13.38},{"p":"IT","g":"g","t":"l","i":17,"x":6.08,"y":13.76},{"p":"IT","g":"g","t":"l","i":18,"x":6.28,"y":14.19},{"p":"IT","g":"g","t":"l","i":19,"x":6.49,"y":14.62},{"p":"IT","g":"g","t":"l","i":20,"x":6.74,"y":14.81},{"p":"IT","g":"g","t":"l","i":21,"x":6.9,"y":14.73},{"p":"IT","g":"g","t":"l","i":22,"x":7.05,"y":14.46},{"p":"IT","g":"g","t":"l","i":23,"x":7.15,"y":13.81},{"p":"IT","g":"g","t":"l","i":24,"x":7.3,"y":12.94},{"p":"IT","g":"g","t":"l","i":25,"x":7.46,"y":12.08},{"p":"IT","g":"g","t":"l","i":26,"x":7.56,"y":11.21},{"p":"IT","g":"g","t":"l","i":27,"x":7.61,"y":10.13},{"p":"IT","g":"g","t":"l","i":28,"x":7.6,"y":9.37},{"p":"IT","g":"g","t":"l","i":29,"x":7.58,"y":8.61},{"p":"IT","g":"g","t":"l","i":30,"x":7.45,"y":8.07},{"p":"IT","g":"g","t":"l","i":31,"x":7.13,"y":7.75},{"p":"IT","g":"g","t":"l","i":32,"x":6.45,"y":7.55},{"p":"IT","g":"g","t":"l","i":33,"x":5.14,"y":7.55},{"p":"IT","g":"g","t":"l","i":34,"x":3.04,"y":7.62},{"p":"IT","g":"g","t":"l","i":35,"x":0.93,"y":7.73},{"p":"IT","g":"g","t":"l","i":36,"x":0.41,"y":7.75},{"p":"IT","g":"g","t":"l","i":37,"x":0,"y":7.8},{"p":"IT","g":"g","t":"l","i":38,"x":-0.5,"y":7.8},{"p":"IT","g":"g","t":"l","i":39,"x":-0.5,"y":9.0}
    ],
    "hist": [
      {"p":"CNN","g":"b","y":8,"c":30},{"p":"CNN","g":"b","y":8.364,"c":33},{"p":"CNN","g":"b","y":8.727,"c":72},{"p":"CNN","g":"b","y":9.091,"c":98},{"p":"CNN","g":"b","y":9.455,"c":128},{"p":"CNN","g":"b","y":9.818,"c":141},{"p":"CNN","g":"b","y":10.182,"c":165},{"p":"CNN","g":"b","y":10.545,"c":187},{"p":"CNN","g":"b","y":10.909,"c":252},{"p":"CNN","g":"b","y":11.273,"c":270},{"p":"CNN","g":"b","y":11.636,"c":339},{"p":"CNN","g":"b","y":12,"c":350},{"p":"CNN","g":"b","y":12.364,"c":378},{"p":"CNN","g":"b","y":12.727,"c":409},{"p":"CNN","g":"b","y":13.091,"c":420},{"p":"CNN","g":"b","y":13.455,"c":474},{"p":"CNN","g":"b","y":13.818,"c":500},{"p":"CNN","g":"b","y":14.182,"c":454},{"p":"CNN","g":"b","y":14.545,"c":554},{"p":"CNN","g":"b","y":14.909,"c":548},{"p":"CNN","g":"b","y":15.273,"c":554},{"p":"CNN","g":"b","y":15.636,"c":524},{"p":"CNN","g":"b","y":16,"c":617},{"p":"CNN","g":"b","y":16.364,"c":609},{"p":"CNN","g":"b","y":16.727,"c":654},{"p":"CNN","g":"b","y":17.091,"c":693},{"p":"CNN","g":"b","y":17.455,"c":646},{"p":"CNN","g":"b","y":17.818,"c":657},{"p":"CNN","g":"b","y":18.182,"c":650},{"p":"CNN","g":"b","y":18.545,"c":702},{"p":"CNN","g":"b","y":18.909,"c":709},{"p":"CNN","g":"b","y":19.273,"c":715},{"p":"CNN","g":"b","y":19.636,"c":761},{"p":"CNN","g":"b","y":20,"c":761},
      {"p":"CNN","g":"o","y":8,"c":25},{"p":"CNN","g":"o","y":8.333,"c":30},{"p":"CNN","g":"o","y":8.667,"c":40},{"p":"CNN","g":"o","y":9,"c":54},{"p":"CNN","g":"o","y":9.333,"c":67},{"p":"CNN","g":"o","y":9.667,"c":91},{"p":"CNN","g":"o","y":10,"c":128},{"p":"CNN","g":"o","y":10.333,"c":178},{"p":"CNN","g":"o","y":10.667,"c":215},{"p":"CNN","g":"o","y":11,"c":239},{"p":"CNN","g":"o","y":11.333,"c":265},{"p":"CNN","g":"o","y":11.667,"c":307},{"p":"CNN","g":"o","y":12,"c":350},{"p":"CNN","g":"o","y":12.333,"c":419},{"p":"CNN","g":"o","y":12.667,"c":443},{"p":"CNN","g":"o","y":13,"c":543},{"p":"CNN","g":"o","y":13.333,"c":493},{"p":"CNN","g":"o","y":13.667,"c":535},{"p":"CNN","g":"o","y":14,"c":572},{"p":"CNN","g":"o","y":14.333,"c":567},{"p":"CNN","g":"o","y":14.667,"c":594},{"p":"CNN","g":"o","y":15,"c":550},{"p":"CNN","g":"o","y":15.333,"c":609},{"p":"CNN","g":"o","y":15.667,"c":641},{"p":"CNN","g":"o","y":16,"c":659},{"p":"CNN","g":"o","y":16.333,"c":654},{"p":"CNN","g":"o","y":16.667,"c":756},{"p":"CNN","g":"o","y":17,"c":709},{"p":"CNN","g":"o","y":17.333,"c":715},{"p":"CNN","g":"o","y":17.667,"c":706},{"p":"CNN","g":"o","y":18,"c":683},{"p":"CNN","g":"o","y":18.333,"c":687},{"p":"CNN","g":"o","y":18.667,"c":706},{"p":"CNN","g":"o","y":19,"c":715},{"p":"CNN","g":"o","y":19.333,"c":739},{"p":"CNN","g":"o","y":19.667,"c":752},{"p":"CNN","g":"o","y":20,"c":752},
      {"p":"CNN","g":"g","y":8,"c":178},{"p":"CNN","g":"g","y":8.316,"c":224},{"p":"CNN","g":"g","y":8.632,"c":276},{"p":"CNN","g":"g","y":8.947,"c":344},{"p":"CNN","g":"g","y":9.263,"c":446},{"p":"CNN","g":"g","y":9.579,"c":530},{"p":"CNN","g":"g","y":9.895,"c":637},{"p":"CNN","g":"g","y":10.211,"c":711},{"p":"CNN","g":"g","y":10.526,"c":780},{"p":"CNN","g":"g","y":10.842,"c":831},{"p":"CNN","g":"g","y":11.158,"c":920},{"p":"CNN","g":"g","y":11.474,"c":869},{"p":"CNN","g":"g","y":11.789,"c":920},{"p":"CNN","g":"g","y":12.105,"c":1067},{"p":"CNN","g":"g","y":12.421,"c":941},{"p":"CNN","g":"g","y":12.737,"c":1035},{"p":"CNN","g":"g","y":13.053,"c":1002},{"p":"CNN","g":"g","y":13.368,"c":1035},{"p":"CNN","g":"g","y":13.684,"c":983},{"p":"CNN","g":"g","y":14,"c":1085},{"p":"CNN","g":"g","y":14.316,"c":1039},{"p":"CNN","g":"g","y":14.632,"c":1030},{"p":"CNN","g":"g","y":14.947,"c":1085},{"p":"CNN","g":"g","y":15.263,"c":1030},{"p":"CNN","g":"g","y":15.579,"c":996},{"p":"CNN","g":"g","y":15.895,"c":1048},{"p":"CNN","g":"g","y":16.211,"c":1057},{"p":"CNN","g":"g","y":16.526,"c":1054},{"p":"CNN","g":"g","y":16.842,"c":1013},{"p":"CNN","g":"g","y":17.158,"c":1006},{"p":"CNN","g":"g","y":17.474,"c":1076},{"p":"CNN","g":"g","y":17.789,"c":1080},{"p":"CNN","g":"g","y":18.105,"c":1104},{"p":"CNN","g":"g","y":18.421,"c":1043},{"p":"CNN","g":"g","y":18.737,"c":1043},{"p":"CNN","g":"g","y":19.053,"c":1020},{"p":"CNN","g":"g","y":19.368,"c":1017},{"p":"CNN","g":"g","y":19.684,"c":1072},{"p":"CNN","g":"g","y":20,"c":1072},
      {"p":"TCN","g":"b","y":8,"c":49},{"p":"TCN","g":"b","y":8.343,"c":92},{"p":"TCN","g":"b","y":8.686,"c":105},{"p":"TCN","g":"b","y":9.029,"c":144},{"p":"TCN","g":"b","y":9.371,"c":191},{"p":"TCN","g":"b","y":9.714,"c":255},{"p":"TCN","g":"b","y":10.057,"c":273},{"p":"TCN","g":"b","y":10.4,"c":307},{"p":"TCN","g":"b","y":10.743,"c":316},{"p":"TCN","g":"b","y":11.086,"c":328},{"p":"TCN","g":"b","y":11.429,"c":416},{"p":"TCN","g":"b","y":11.771,"c":476},{"p":"TCN","g":"b","y":12.114,"c":468},{"p":"TCN","g":"b","y":12.457,"c":562},{"p":"TCN","g":"b","y":12.8,"c":543},{"p":"TCN","g":"b","y":13.143,"c":566},{"p":"TCN","g":"b","y":13.486,"c":611},{"p":"TCN","g":"b","y":13.829,"c":625},{"p":"TCN","g":"b","y":14.171,"c":655},{"p":"TCN","g":"b","y":14.514,"c":644},{"p":"TCN","g":"b","y":14.857,"c":676},{"p":"TCN","g":"b","y":15.2,"c":729},{"p":"TCN","g":"b","y":15.543,"c":749},{"p":"TCN","g":"b","y":15.886,"c":753},{"p":"TCN","g":"b","y":16.229,"c":766},{"p":"TCN","g":"b","y":16.571,"c":794},{"p":"TCN","g":"b","y":16.914,"c":822},{"p":"TCN","g":"b","y":17.257,"c":847},{"p":"TCN","g":"b","y":17.6,"c":772},{"p":"TCN","g":"b","y":17.943,"c":788},{"p":"TCN","g":"b","y":18.286,"c":882},{"p":"TCN","g":"b","y":18.629,"c":860},{"p":"TCN","g":"b","y":18.971,"c":800},{"p":"TCN","g":"b","y":19.314,"c":828},{"p":"TCN","g":"b","y":19.657,"c":828},{"p":"TCN","g":"b","y":20,"c":828},
      {"p":"TCN","g":"o","y":8,"c":58},{"p":"TCN","g":"o","y":8.343,"c":97},{"p":"TCN","g":"o","y":8.686,"c":139},{"p":"TCN","g":"o","y":9.029,"c":152},{"p":"TCN","g":"o","y":9.371,"c":200},{"p":"TCN","g":"o","y":9.714,"c":242},{"p":"TCN","g":"o","y":10.057,"c":285},{"p":"TCN","g":"o","y":10.4,"c":307},{"p":"TCN","g":"o","y":10.743,"c":386},{"p":"TCN","g":"o","y":11.086,"c":457},{"p":"TCN","g":"o","y":11.429,"c":446},{"p":"TCN","g":"o","y":11.771,"c":551},{"p":"TCN","g":"o","y":12.114,"c":536},{"p":"TCN","g":"o","y":12.457,"c":536},{"p":"TCN","g":"o","y":12.8,"c":667},{"p":"TCN","g":"o","y":13.143,"c":667},{"p":"TCN","g":"o","y":13.486,"c":640},{"p":"TCN","g":"o","y":13.829,"c":687},{"p":"TCN","g":"o","y":14.171,"c":723},{"p":"TCN","g":"o","y":14.514,"c":704},{"p":"TCN","g":"o","y":14.857,"c":676},{"p":"TCN","g":"o","y":15.2,"c":734},{"p":"TCN","g":"o","y":15.543,"c":715},{"p":"TCN","g":"o","y":15.886,"c":757},{"p":"TCN","g":"o","y":16.229,"c":738},{"p":"TCN","g":"o","y":16.571,"c":757},{"p":"TCN","g":"o","y":16.914,"c":743},{"p":"TCN","g":"o","y":17.257,"c":762},{"p":"TCN","g":"o","y":17.6,"c":723},{"p":"TCN","g":"o","y":17.943,"c":762},{"p":"TCN","g":"o","y":18.286,"c":762},{"p":"TCN","g":"o","y":18.629,"c":747},{"p":"TCN","g":"o","y":18.971,"c":790},{"p":"TCN","g":"o","y":19.314,"c":738},{"p":"TCN","g":"o","y":19.657,"c":779},{"p":"TCN","g":"o","y":20,"c":779},
      {"p":"TCN","g":"g","y":8,"c":341},{"p":"TCN","g":"g","y":8.324,"c":461},{"p":"TCN","g":"g","y":8.649,"c":526},{"p":"TCN","g":"g","y":8.973,"c":631},{"p":"TCN","g":"g","y":9.297,"c":727},{"p":"TCN","g":"g","y":9.622,"c":873},{"p":"TCN","g":"g","y":9.946,"c":869},{"p":"TCN","g":"g","y":10.27,"c":963},{"p":"TCN","g":"g","y":10.595,"c":993},{"p":"TCN","g":"g","y":10.919,"c":1013},{"p":"TCN","g":"g","y":11.243,"c":1053},{"p":"TCN","g":"g","y":11.568,"c":1071},{"p":"TCN","g":"g","y":11.892,"c":1077},{"p":"TCN","g":"g","y":12.216,"c":1077},{"p":"TCN","g":"g","y":12.541,"c":1097},{"p":"TCN","g":"g","y":12.865,"c":1032},{"p":"TCN","g":"g","y":13.189,"c":1041},{"p":"TCN","g":"g","y":13.514,"c":1097},{"p":"TCN","g":"g","y":13.838,"c":1066},{"p":"TCN","g":"g","y":14.162,"c":1094},{"p":"TCN","g":"g","y":14.486,"c":1064},{"p":"TCN","g":"g","y":14.811,"c":1053},{"p":"TCN","g":"g","y":15.135,"c":1103},{"p":"TCN","g":"g","y":15.459,"c":1094},{"p":"TCN","g":"g","y":15.784,"c":1060},{"p":"TCN","g":"g","y":16.108,"c":1053},{"p":"TCN","g":"g","y":16.432,"c":1047},{"p":"TCN","g":"g","y":16.757,"c":1097},{"p":"TCN","g":"g","y":17.081,"c":1060},{"p":"TCN","g":"g","y":17.405,"c":1071},{"p":"TCN","g":"g","y":17.73,"c":1094},{"p":"TCN","g":"g","y":18.054,"c":1081},{"p":"TCN","g":"g","y":18.378,"c":1122},{"p":"TCN","g":"g","y":18.703,"c":1032},{"p":"TCN","g":"g","y":19.027,"c":1047},{"p":"TCN","g":"g","y":19.351,"c":1097},{"p":"TCN","g":"g","y":19.676,"c":1103},{"p":"TCN","g":"g","y":20,"c":1103},
      {"p":"IT","g":"b","y":8,"c":67},{"p":"IT","g":"b","y":8.333,"c":67},{"p":"IT","g":"b","y":8.667,"c":96},{"p":"IT","g":"b","y":9,"c":163},{"p":"IT","g":"b","y":9.333,"c":174},{"p":"IT","g":"b","y":9.667,"c":228},{"p":"IT","g":"b","y":10,"c":250},{"p":"IT","g":"b","y":10.333,"c":301},{"p":"IT","g":"b","y":10.667,"c":346},{"p":"IT","g":"b","y":11,"c":382},{"p":"IT","g":"b","y":11.333,"c":415},{"p":"IT","g":"b","y":11.667,"c":418},{"p":"IT","g":"b","y":12,"c":505},{"p":"IT","g":"b","y":12.333,"c":480},{"p":"IT","g":"b","y":12.667,"c":567},{"p":"IT","g":"b","y":13,"c":534},{"p":"IT","g":"b","y":13.333,"c":589},{"p":"IT","g":"b","y":13.667,"c":658},{"p":"IT","g":"b","y":14,"c":611},{"p":"IT","g":"b","y":14.333,"c":694},{"p":"IT","g":"b","y":14.667,"c":676},{"p":"IT","g":"b","y":15,"c":703},{"p":"IT","g":"b","y":15.333,"c":748},{"p":"IT","g":"b","y":15.667,"c":730},{"p":"IT","g":"b","y":16,"c":775},{"p":"IT","g":"b","y":16.333,"c":775},{"p":"IT","g":"b","y":16.667,"c":784},{"p":"IT","g":"b","y":17,"c":815},{"p":"IT","g":"b","y":17.333,"c":775},{"p":"IT","g":"b","y":17.667,"c":799},{"p":"IT","g":"b","y":18,"c":770},{"p":"IT","g":"b","y":18.333,"c":813},{"p":"IT","g":"b","y":18.667,"c":752},{"p":"IT","g":"b","y":19,"c":828},{"p":"IT","g":"b","y":19.333,"c":897},{"p":"IT","g":"b","y":19.667,"c":817},{"p":"IT","g":"b","y":20,"c":817},
      {"p":"IT","g":"o","y":8,"c":105},{"p":"IT","g":"o","y":8.353,"c":127},{"p":"IT","g":"o","y":8.706,"c":163},{"p":"IT","g":"o","y":9.059,"c":235},{"p":"IT","g":"o","y":9.412,"c":268},{"p":"IT","g":"o","y":9.765,"c":308},{"p":"IT","g":"o","y":10.118,"c":355},{"p":"IT","g":"o","y":10.471,"c":389},{"p":"IT","g":"o","y":10.824,"c":455},{"p":"IT","g":"o","y":11.176,"c":476},{"p":"IT","g":"o","y":11.529,"c":553},{"p":"IT","g":"o","y":11.882,"c":553},{"p":"IT","g":"o","y":12.235,"c":578},{"p":"IT","g":"o","y":12.588,"c":554},{"p":"IT","g":"o","y":12.941,"c":627},{"p":"IT","g":"o","y":13.294,"c":600},{"p":"IT","g":"o","y":13.647,"c":699},{"p":"IT","g":"o","y":14,"c":736},{"p":"IT","g":"o","y":14.353,"c":721},{"p":"IT","g":"o","y":14.706,"c":698},{"p":"IT","g":"o","y":15.059,"c":703},{"p":"IT","g":"o","y":15.412,"c":685},{"p":"IT","g":"o","y":15.765,"c":739},{"p":"IT","g":"o","y":16.118,"c":739},{"p":"IT","g":"o","y":16.471,"c":763},{"p":"IT","g":"o","y":16.824,"c":752},{"p":"IT","g":"o","y":17.176,"c":824},{"p":"IT","g":"o","y":17.529,"c":784},{"p":"IT","g":"o","y":17.882,"c":763},{"p":"IT","g":"o","y":18.235,"c":770},{"p":"IT","g":"o","y":18.588,"c":795},{"p":"IT","g":"o","y":18.941,"c":788},{"p":"IT","g":"o","y":19.294,"c":774},{"p":"IT","g":"o","y":19.647,"c":761},{"p":"IT","g":"o","y":20,"c":761},
      {"p":"IT","g":"g","y":8,"c":395},{"p":"IT","g":"g","y":8.324,"c":449},{"p":"IT","g":"g","y":8.649,"c":540},{"p":"IT","g":"g","y":8.973,"c":612},{"p":"IT","g":"g","y":9.297,"c":698},{"p":"IT","g":"g","y":9.622,"c":748},{"p":"IT","g":"g","y":9.946,"c":821},{"p":"IT","g":"g","y":10.27,"c":852},{"p":"IT","g":"g","y":10.595,"c":930},{"p":"IT","g":"g","y":10.919,"c":987},{"p":"IT","g":"g","y":11.243,"c":996},{"p":"IT","g":"g","y":11.568,"c":1038},{"p":"IT","g":"g","y":11.892,"c":960},{"p":"IT","g":"g","y":12.216,"c":996},{"p":"IT","g":"g","y":12.541,"c":1047},{"p":"IT","g":"g","y":12.865,"c":1047},{"p":"IT","g":"g","y":13.189,"c":1038},{"p":"IT","g":"g","y":13.514,"c":1020},{"p":"IT","g":"g","y":13.838,"c":1060},{"p":"IT","g":"g","y":14.162,"c":1083},{"p":"IT","g":"g","y":14.486,"c":1053},{"p":"IT","g":"g","y":14.811,"c":1096},{"p":"IT","g":"g","y":15.135,"c":1060},{"p":"IT","g":"g","y":15.459,"c":1083},{"p":"IT","g":"g","y":15.784,"c":1038},{"p":"IT","g":"g","y":16.108,"c":1083},{"p":"IT","g":"g","y":16.432,"c":1027},{"p":"IT","g":"g","y":16.757,"c":1060},{"p":"IT","g":"g","y":17.081,"c":1078},{"p":"IT","g":"g","y":17.405,"c":1038},{"p":"IT","g":"g","y":17.73,"c":1074},{"p":"IT","g":"g","y":18.054,"c":1056},{"p":"IT","g":"g","y":18.378,"c":1078},{"p":"IT","g":"g","y":18.703,"c":1038},{"p":"IT","g":"g","y":19.027,"c":1096},{"p":"IT","g":"g","y":19.351,"c":1060},{"p":"IT","g":"g","y":19.676,"c":1067},{"p":"IT","g":"g","y":20,"c":1067}
    ]
  },
  "concat": [
    {
      "width": 698, "height": 385,
      "title": {"text": "Samples with Pₛ < 1", "frame": "group", "offset": -11},
      "encoding": {
        "x": {"field": "x", "type": "quantitative", "scale": {"domain": [0, 8], "nice": false, "zero": false}, "axis": {"values": [0, 1, 2, 3, 4, 5, 6, 7, 8], "labels": false, "title": null}},
        "y": {"field": "y", "type": "quantitative", "scale": {"domain": [7.5, 20], "nice": false, "zero": false}, "axis": {"values": [7.5, 10, 12.5, 15, 17.5, 20], "format": ".1f", "title": null}}
      },
      "layer": [
        {"data": {"name": "contours"}, "transform": [{"filter": "datum.p == 'CNN' && datum.t == 'f' && datum.g == 'b'"}], "mark": {"type": "line", "interpolate": "catmull-rom", "fill": "#268ad4", "fillOpacity": 0.6, "strokeWidth": 0, "clip": true}, "encoding": {"order": {"field": "i", "type": "quantitative"}}},
        {"data": {"name": "contours"}, "transform": [{"filter": "datum.p == 'CNN' && datum.t == 'f' && datum.g == 'o'"}], "mark": {"type": "line", "interpolate": "catmull-rom", "fill": "#d56400", "fillOpacity": 0.6, "strokeWidth": 0, "clip": true}, "encoding": {"order": {"field": "i", "type": "quantitative"}}},
        {"data": {"name": "contours"}, "transform": [{"filter": "datum.p == 'CNN' && datum.t == 'f' && datum.g == 'g'"}], "mark": {"type": "line", "interpolate": "catmull-rom", "fill": "#2b992b", "fillOpacity": 0.6, "strokeWidth": 0, "clip": true}, "encoding": {"order": {"field": "i", "type": "quantitative"}}},
        {"data": {"name": "contours"}, "transform": [{"filter": "datum.p == 'CNN' && datum.t == 'l'"}], "mark": {"type": "line", "interpolate": "catmull-rom", "strokeWidth": 2, "strokeOpacity": 0.6, "clip": true},
         "encoding": {
           "order": {"field": "i", "type": "quantitative"},
           "color": {"field": "g", "type": "nominal", "scale": {"domain": ["b", "o", "g"], "range": ["#1f77b4", "#ff7f0e", "#2ca02c"]},
             "legend": {"orient": "none", "legendX": -113, "legendY": -146, "direction": "horizontal", "columns": 3, "columnPadding": 8, "title": null,
               "symbolType": "M-1.8125,0H5.0625", "symbolSize": 256, "symbolStrokeWidth": 13, "symbolOpacity": 1,
               "labelFont": "DejaVu Sans", "labelFontSize": 20, "labelColor": "#262626", "labelLimit": 500, "labelOffset": 37,
               "padding": 2, "strokeColor": "#d0d0d0", "cornerRadius": 5, "fillColor": "white",
               "labelExpr": "datum.value == 'b' ? '13 \u00a0<\u00a0 chirp mass \u00a0<\u00a0 17 M⊙' : datum.value == 'o' ? '21 \u00a0<\u00a0 chirp mass \u00a0<\u00a0 26 M⊙' : '17 \u00a0<\u00a0 chirp mass \u00a0<\u00a0 21 M⊙'"}}
         }},
        {"data": {"name": "labels"}, "transform": [{"filter": "datum.p == 'CNN'"}], "mark": {"type": "text", "align": "left", "baseline": "middle", "fontSize": 27, "font": "DejaVu Sans", "color": "#262626"}, "encoding": {"text": {"field": "label", "type": "nominal"}}}
      ]
    },
    {
      "width": 208, "height": 385,
      "title": {"text": "Pₛ = 1", "frame": "group", "offset": 2},
      "data": {"name": "hist"},
      "transform": [{"filter": "datum.p == 'CNN'"}],
      "mark": {"type": "line", "interpolate": "step-before", "strokeWidth": 2.5, "clip": true},
      "encoding": {
        "x": {"field": "c", "type": "quantitative", "scale": {"domain": [15, 1150], "nice": false, "zero": false}, "axis": {"values": [500, 1000], "labels": false, "title": null}},
        "y": {"field": "y", "type": "quantitative", "scale": {"domain": [7.5, 20], "nice": false, "zero": false}, "axis": {"values": [7.5, 10, 12.5, 15, 17.5, 20], "labels": false, "title": null}},
        "color": {"field": "g", "type": "nominal", "scale": {"domain": ["b", "o", "g"], "range": ["#1f77b4", "#ff7f0e", "#2ca02c"]}},
        "order": {"field": "y", "type": "quantitative"}
      }
    },
    {
      "width": 698, "height": 385,
      "encoding": {
        "x": {"field": "x", "type": "quantitative", "scale": {"domain": [0, 8], "nice": false, "zero": false}, "axis": {"values": [0, 1, 2, 3, 4, 5, 6, 7, 8], "labels": false, "title": null}},
        "y": {"field": "y", "type": "quantitative", "scale": {"domain": [7.5, 20], "nice": false, "zero": false}, "axis": {"values": [7.5, 10, 12.5, 15, 17.5, 20], "format": ".1f", "title": "Signal-to-noise ratio", "titlePadding": 10}}
      },
      "layer": [
        {"data": {"name": "contours"}, "transform": [{"filter": "datum.p == 'TCN' && datum.t == 'f' && datum.g == 'b'"}], "mark": {"type": "line", "interpolate": "catmull-rom", "fill": "#268ad4", "fillOpacity": 0.6, "strokeWidth": 0, "clip": true}, "encoding": {"order": {"field": "i", "type": "quantitative"}}},
        {"data": {"name": "contours"}, "transform": [{"filter": "datum.p == 'TCN' && datum.t == 'f' && datum.g == 'o'"}], "mark": {"type": "line", "interpolate": "catmull-rom", "fill": "#d56400", "fillOpacity": 0.6, "strokeWidth": 0, "clip": true}, "encoding": {"order": {"field": "i", "type": "quantitative"}}},
        {"data": {"name": "contours"}, "transform": [{"filter": "datum.p == 'TCN' && datum.t == 'f' && datum.g == 'g'"}], "mark": {"type": "line", "interpolate": "catmull-rom", "fill": "#2b992b", "fillOpacity": 0.6, "strokeWidth": 0, "clip": true}, "encoding": {"order": {"field": "i", "type": "quantitative"}}},
        {"data": {"name": "contours"}, "transform": [{"filter": "datum.p == 'TCN' && datum.t == 'l'"}], "mark": {"type": "line", "interpolate": "catmull-rom", "strokeWidth": 2, "strokeOpacity": 0.6, "clip": true},
         "encoding": {"order": {"field": "i", "type": "quantitative"}, "color": {"field": "g", "type": "nominal", "scale": {"domain": ["b", "o", "g"], "range": ["#1f77b4", "#ff7f0e", "#2ca02c"]}}}},
        {"data": {"name": "labels"}, "transform": [{"filter": "datum.p == 'TCN'"}], "mark": {"type": "text", "align": "left", "baseline": "middle", "fontSize": 27, "font": "DejaVu Sans", "color": "#262626"}, "encoding": {"text": {"field": "label", "type": "nominal"}}}
      ]
    },
    {
      "width": 208, "height": 385,
      "data": {"name": "hist"},
      "transform": [{"filter": "datum.p == 'TCN'"}],
      "mark": {"type": "line", "interpolate": "step-before", "strokeWidth": 2.5, "clip": true},
      "encoding": {
        "x": {"field": "c", "type": "quantitative", "scale": {"domain": [15, 1150], "nice": false, "zero": false}, "axis": {"values": [500, 1000], "labels": false, "title": null}},
        "y": {"field": "y", "type": "quantitative", "scale": {"domain": [7.5, 20], "nice": false, "zero": false}, "axis": {"values": [7.5, 10, 12.5, 15, 17.5, 20], "labels": false, "title": null}},
        "color": {"field": "g", "type": "nominal", "scale": {"domain": ["b", "o", "g"], "range": ["#1f77b4", "#ff7f0e", "#2ca02c"]}},
        "order": {"field": "y", "type": "quantitative"}
      }
    },
    {
      "width": 698, "height": 385,
      "encoding": {
        "x": {"field": "x", "type": "quantitative", "scale": {"domain": [0, 8], "nice": false, "zero": false}, "axis": {"values": [0, 1, 2, 3, 4, 5, 6, 7, 8], "format": "d", "title": "λ = −log₁₀(1 − Pₛ)", "titlePadding": 6}},
        "y": {"field": "y", "type": "quantitative", "scale": {"domain": [7.5, 20], "nice": false, "zero": false}, "axis": {"values": [7.5, 10, 12.5, 15, 17.5, 20], "format": ".1f", "title": null}}
      },
      "layer": [
        {"data": {"name": "contours"}, "transform": [{"filter": "datum.p == 'IT' && datum.t == 'f' && datum.g == 'b'"}], "mark": {"type": "line", "interpolate": "catmull-rom", "fill": "#268ad4", "fillOpacity": 0.6, "strokeWidth": 0, "clip": true}, "encoding": {"order": {"field": "i", "type": "quantitative"}}},
        {"data": {"name": "contours"}, "transform": [{"filter": "datum.p == 'IT' && datum.t == 'f' && datum.g == 'o'"}], "mark": {"type": "line", "interpolate": "catmull-rom", "fill": "#d56400", "fillOpacity": 0.6, "strokeWidth": 0, "clip": true}, "encoding": {"order": {"field": "i", "type": "quantitative"}}},
        {"data": {"name": "contours"}, "transform": [{"filter": "datum.p == 'IT' && datum.t == 'f' && datum.g == 'g'"}], "mark": {"type": "line", "interpolate": "catmull-rom", "fill": "#2b992b", "fillOpacity": 0.6, "strokeWidth": 0, "clip": true}, "encoding": {"order": {"field": "i", "type": "quantitative"}}},
        {"data": {"name": "contours"}, "transform": [{"filter": "datum.p == 'IT' && datum.t == 'l'"}], "mark": {"type": "line", "interpolate": "catmull-rom", "strokeWidth": 2, "strokeOpacity": 0.6, "clip": true},
         "encoding": {"order": {"field": "i", "type": "quantitative"}, "color": {"field": "g", "type": "nominal", "scale": {"domain": ["b", "o", "g"], "range": ["#1f77b4", "#ff7f0e", "#2ca02c"]}}}},
        {"data": {"name": "labels"}, "transform": [{"filter": "datum.p == 'IT'"}], "mark": {"type": "text", "align": "left", "baseline": "middle", "fontSize": 27, "font": "DejaVu Sans", "color": "#262626"}, "encoding": {"text": {"field": "label", "type": "nominal"}}}
      ]
    },
    {
      "width": 208, "height": 385,
      "data": {"name": "hist"},
      "transform": [{"filter": "datum.p == 'IT'"}],
      "mark": {"type": "line", "interpolate": "step-before", "strokeWidth": 2.5, "clip": true},
      "encoding": {
        "x": {"field": "c", "type": "quantitative", "scale": {"domain": [15, 1150], "nice": false, "zero": false}, "axis": {"values": [500, 1000], "format": "d", "title": "Counts", "titlePadding": 6}},
        "y": {"field": "y", "type": "quantitative", "scale": {"domain": [7.5, 20], "nice": false, "zero": false}, "axis": {"values": [7.5, 10, 12.5, 15, 17.5, 20], "labels": false, "title": null}},
        "color": {"field": "g", "type": "nominal", "scale": {"domain": ["b", "o", "g"], "range": ["#1f77b4", "#ff7f0e", "#2ca02c"]}},
        "order": {"field": "y", "type": "quantitative"}
      }
    }
  ],
  "config": {
    "font": "DejaVu Sans",
    "view": {"stroke": "#262626", "strokeWidth": 1.25},
    "axis": {"domain": false, "ticks": false, "grid": true, "gridColor": "#cccccc", "gridWidth": 1,
      "labelFont": "DejaVu Sans", "labelFontSize": 26, "labelColor": "#262626", "labelPadding": 10, "labelFlush": false, "labelOverlap": false,
      "titleFont": "DejaVu Sans", "titleFontSize": 27, "titleFontWeight": "normal", "titleColor": "#262626"},
    "axisY": {"labelPadding": 12},
    "title": {"font": "DejaVu Sans", "fontSize": 33, "fontWeight": "normal", "color": "#262626", "anchor": "middle", "offset": 4}
  }
}
